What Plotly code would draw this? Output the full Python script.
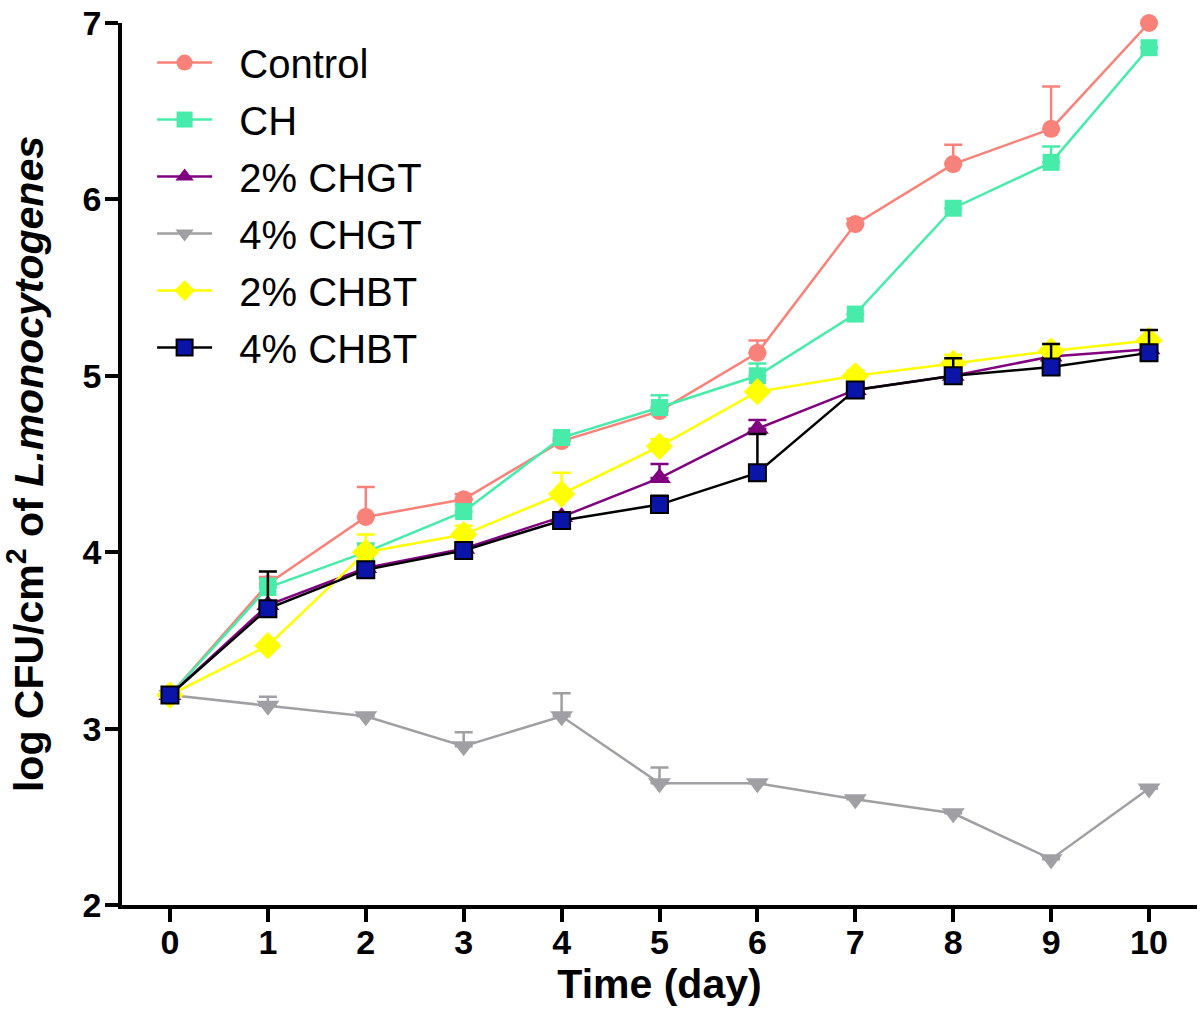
import plotly.graph_objects as go

days = [0, 1, 2, 3, 4, 5, 6, 7, 8, 9, 10]

control = [3.19, 3.82, 4.20, 4.30, 4.63, 4.80, 5.13, 5.86, 6.20, 6.40, 7.00]
control_err = [0, 0.04, 0.17, 0.03, 0.01, 0.02, 0.07, 0.03, 0.11, 0.24, 0]

ch = [3.19, 3.80, 4.00, 4.23, 4.65, 4.82, 5.00, 5.35, 5.95, 6.21, 6.86]
ch_err = [0, 0.05, 0.05, 0.04, 0.02, 0.07, 0.07, 0, 0, 0.09, 0]

chgt2 = [3.19, 3.70, 3.91, 4.02, 4.20, 4.42, 4.70, 4.92, 5.00, 5.11, 5.15]
chgt2_err = [0, 0, 0, 0, 0, 0.08, 0.05, 0, 0, 0, 0]

chgt4 = [3.19, 3.13, 3.07, 2.90, 3.07, 2.69, 2.69, 2.60, 2.52, 2.26, 2.66]
chgt4_err = [0, 0.05, 0, 0.08, 0.13, 0.09, 0, 0, 0, 0, 0]

chbt2 = [3.19, 3.47, 4.00, 4.10, 4.33, 4.60, 4.91, 5.00, 5.07, 5.14, 5.20]
chbt2_err = [0, 0, 0.10, 0.05, 0.12, 0.04, 0, 0.03, 0.05, 0, 0]

chbt4 = [3.19, 3.68, 3.90, 4.01, 4.18, 4.27, 4.45, 4.92, 5.00, 5.05, 5.13]
chbt4_err = [0, 0.21, 0, 0, 0, 0.05, 0.22, 0, 0.10, 0.13, 0.13]

series = [
    ("Control", control, control_err, "#F88279", "#F88279", "circle", None, 18),
    ("CH", ch, ch_err, "#47EBAA", "#47EBAA", "square", None, 17),
    ("2% CHGT", chgt2, chgt2_err, "#800080", "#800080", "triangle-up", None, 20),
    ("4% CHGT", chgt4, chgt4_err, "#A0A0A4", "#A0A0A4", "triangle-down", None, 20),
    ("2% CHBT", chbt2, chbt2_err, "#FFFF00", "#FFFF00", "diamond", None, 21),
    ("4% CHBT", chbt4, chbt4_err, "#000000", "#0A14A8", "square", "#000000", 17),
]

fig = go.Figure()
for i, (name, vals, errs, lcol, mcol, sym, border, msize) in enumerate(series):
    fig.add_trace(go.Scatter(
        x=days, y=vals, name="\u00a0\u00a0" + name, mode="lines+markers",
        legendgroup=f"g{i}",
        line=dict(color=lcol, width=2.5),
        marker=dict(symbol=sym, size=msize, color=mcol,
                    line=dict(color=border if border else mcol, width=2 if border else 0)),
        error_y=dict(type="data", array=errs, arrayminus=[0] * len(errs), symmetric=False,
                     color=lcol, thickness=2.5, width=9),
        cliponaxis=False,
    ))

font_family = "Liberation Sans, Arial, sans-serif"

fig.update_layout(
    width=1200, height=1010,
    margin=dict(l=122, r=3, t=23, b=105, autoexpand=False),
    plot_bgcolor="white", paper_bgcolor="white",
    font=dict(family=font_family, color="black"),
    showlegend=True,
    legend=dict(x=0.028, y=0.992, xanchor="left", yanchor="top",
                font=dict(size=40, family=font_family, color="black"),
                bgcolor="rgba(0,0,0,0)", tracegroupgap=2, itemwidth=55),
    xaxis=dict(range=[-0.49, 10.49], tickmode="array", tickvals=days,
               ticktext=[str(d) for d in days], automargin=False,
               showgrid=False, zeroline=False, showline=True, linecolor="black", linewidth=3.5,
               ticks="outside", ticklen=13, tickwidth=3.5, tickcolor="black",
               ticklabelstandoff=-9,
               tickfont=dict(size=34, family=font_family, weight="bold"),
               title=dict(text="Time (day)", font=dict(size=41, family=font_family, weight="bold"),
                          standoff=6)),
    yaxis=dict(range=[2, 7], tickmode="array", tickvals=[2, 3, 4, 5, 6, 7], automargin=False,
               showgrid=False, zeroline=False, showline=True, linecolor="black", linewidth=3.5,
               ticks="outside", ticklen=13, tickwidth=3.5, tickcolor="black",
               ticklabelstandoff=-3,
               tickfont=dict(size=34, family=font_family, weight="bold"),
               title=dict(text="log CFU/cm<sup>2</sup> of <i>L.monocytogenes</i>",
                          font=dict(size=41, family=font_family, weight="bold"),
                          standoff=30)),
)

fig.write_html("out.html", config={"displayModeBar": False},
               post_script="document.body.style.margin='0';")
